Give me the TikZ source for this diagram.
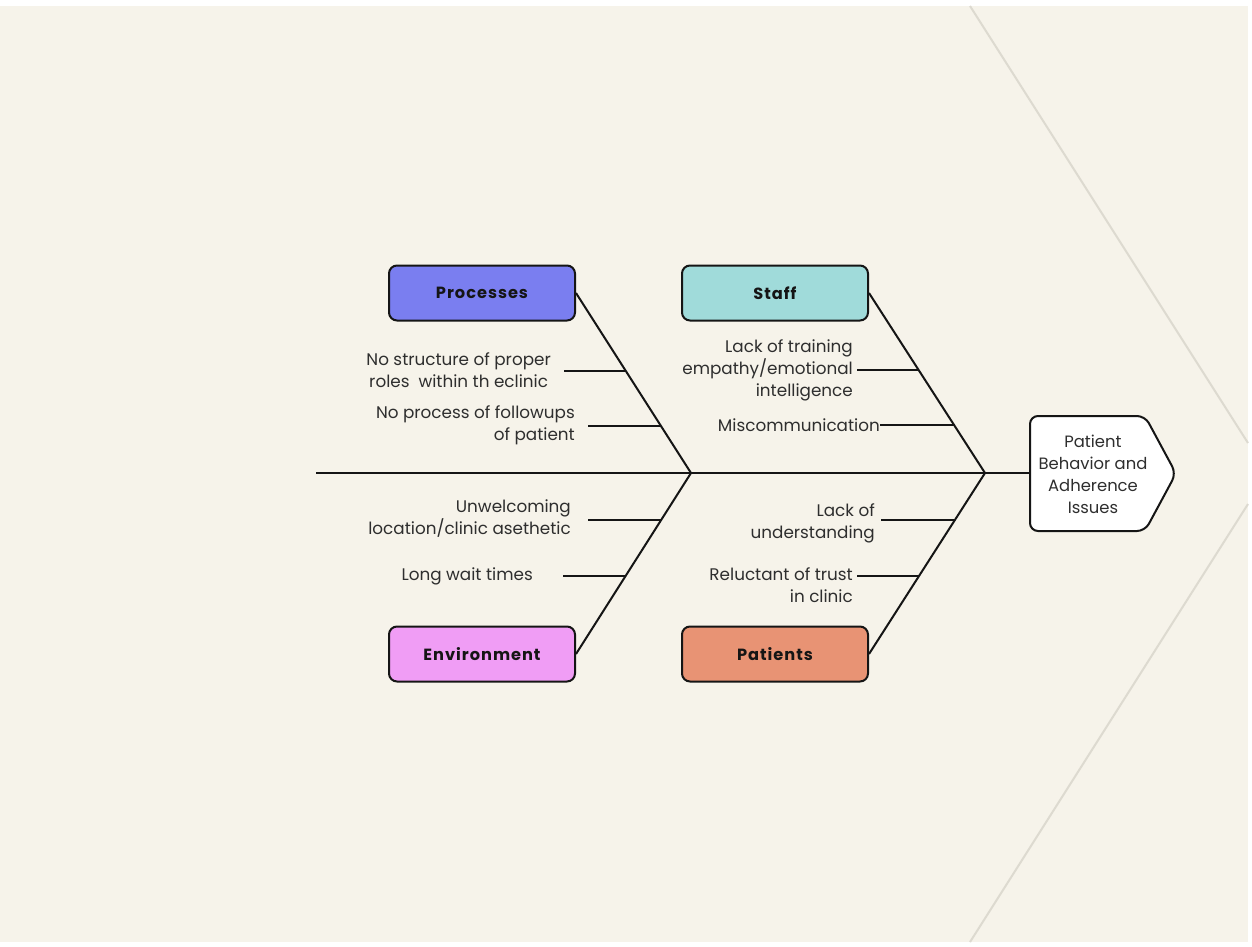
\documentclass[tikz,border=0pt]{standalone}
\usepackage{fontspec}
\setmainfont{Poppins}
\newfontfamily\catfont[LetterSpace=6]{Poppins}
\usetikzlibrary{calc}
\definecolor{bg}{HTML}{F6F3EA}
\definecolor{faintline}{HTML}{DDDAD0}
\definecolor{procC}{HTML}{7A7EF0}
\definecolor{staffC}{HTML}{A0DBDA}
\definecolor{envC}{HTML}{F09DF5}
\definecolor{patC}{HTML}{E89374}
\definecolor{ink}{HTML}{151515}
\definecolor{txt}{HTML}{2E2E2E}
\tikzset{
  cat/.style={draw=ink, line width=2pt, rounded corners=8pt, minimum width=186pt, minimum height=55pt,
    font=\catfont\bfseries\fontsize{16.2}{19}\selectfont, text=ink, inner sep=0pt},
  bone/.style={draw=ink, line width=2pt},
  spine/.style={draw=ink, line width=2.5pt},
  sub/.style={draw=ink, line width=2pt},
  cause/.style={font=\fontsize{16.8}{22}\selectfont, text=txt, inner sep=0pt, anchor=east},
  faint/.style={draw=faintline, line width=2pt},
  headtxt/.style={font=\fontsize{16.4}{22}\selectfont, text=txt, align=center, inner sep=0pt}
}
\begin{document}
\begin{tikzpicture}[x=1pt,y=-1pt]
\useasboundingbox (0,0) rectangle (1252,946);
\fill[white] (0,0) rectangle (1252,946);
\fill[bg] (0,6) rectangle (1248,942);
\draw[faint] (970,6) -- (1248,443);
\draw[faint] (1248,504) -- (970,942);

% category boxes
\node[cat, fill=procC] (p) at (482,293) {Processes};
\node[cat, fill=staffC] (s) at (775,293) {Staff};
\node[cat, fill=envC] (e) at (482,654) {Environment};
\node[cat, fill=patC] (pt) at (775,654) {Patients};

% head
\draw[draw=ink, line width=2pt, fill=white, rounded corners=8pt]
  (1030,416) -- (1145,416) -- (1176,473.5) -- (1145,531) -- (1030,531) -- cycle;
\node[headtxt] (h) at (1093,474) {Patient\\Behavior and\\Adherence\\Issues};
\coordinate (hw) at (1030,473);

% spine
\coordinate (tail) at (316,473);
\coordinate (j1) at (691,473);
\coordinate (j2) at (985,473);
\draw[spine] (tail) -- (j1) -- (j2) -- (hw);

% bones
\draw[bone] (p.east) -- (j1);
\draw[bone] (e.east) -- (j1);
\draw[bone] (s.east) -- (j2);
\draw[bone] (pt.east) -- (j2);

% points on bones
\coordinate (b1) at ($(p.east)!0.433!(j1)$);
\coordinate (b2) at ($(p.east)!0.739!(j1)$);
\coordinate (b3) at ($(s.east)!0.428!(j2)$);
\coordinate (b4) at ($(s.east)!0.733!(j2)$);
\coordinate (b5) at ($(e.east)!0.740!(j1)$);
\coordinate (b6) at ($(e.east)!0.431!(j1)$);
\coordinate (b7) at ($(pt.east)!0.740!(j2)$);
\coordinate (b8) at ($(pt.east)!0.431!(j2)$);

% cause texts
\node[cause, align=center] (t1) at (551,370) {No structure of proper\\roles\ \ within th eclinic};
\node[cause, align=right] (t2) at (575,425) {No process of followups\\of patient};
\node[cause, align=right] (t3) at (853,370) {Lack of training\\empathy/emotional\\intelligence};
\node[cause] (t4) at (880,425) {Miscommunication};
\node[cause, align=right] (t5) at (571,519) {Unwelcoming\\location/clinic asethetic};
\node[cause] (t6) at (533,576) {Long wait times};
\node[cause, align=right] (t7) at (875,523) {Lack of\\understanding};
\node[cause, align=right] (t8) at (853,585) {Reluctant of trust\\in clinic};

% sub-bone free ends
\coordinate (s1) at (564,0 |- b1);
\coordinate (s2) at (588,0 |- b2);
\coordinate (s3) at (857,0 |- b3);
\coordinate (s5) at (588,0 |- b5);
\coordinate (s6) at (563,0 |- b6);
\coordinate (s7) at (881,0 |- b7);
\coordinate (s8) at (857,0 |- b8);

\draw[sub] (s1) -- (b1);
\draw[sub] (s2) -- (b2);
\draw[sub] (s3) -- (b3);
\draw[sub] (t4.east |- b4) -- (b4);
\draw[sub] (s5) -- (b5);
\draw[sub] (s6) -- (b6);
\draw[sub] (s7) -- (b7);
\draw[sub] (s8) -- (b8);
\end{tikzpicture}
\end{document}
